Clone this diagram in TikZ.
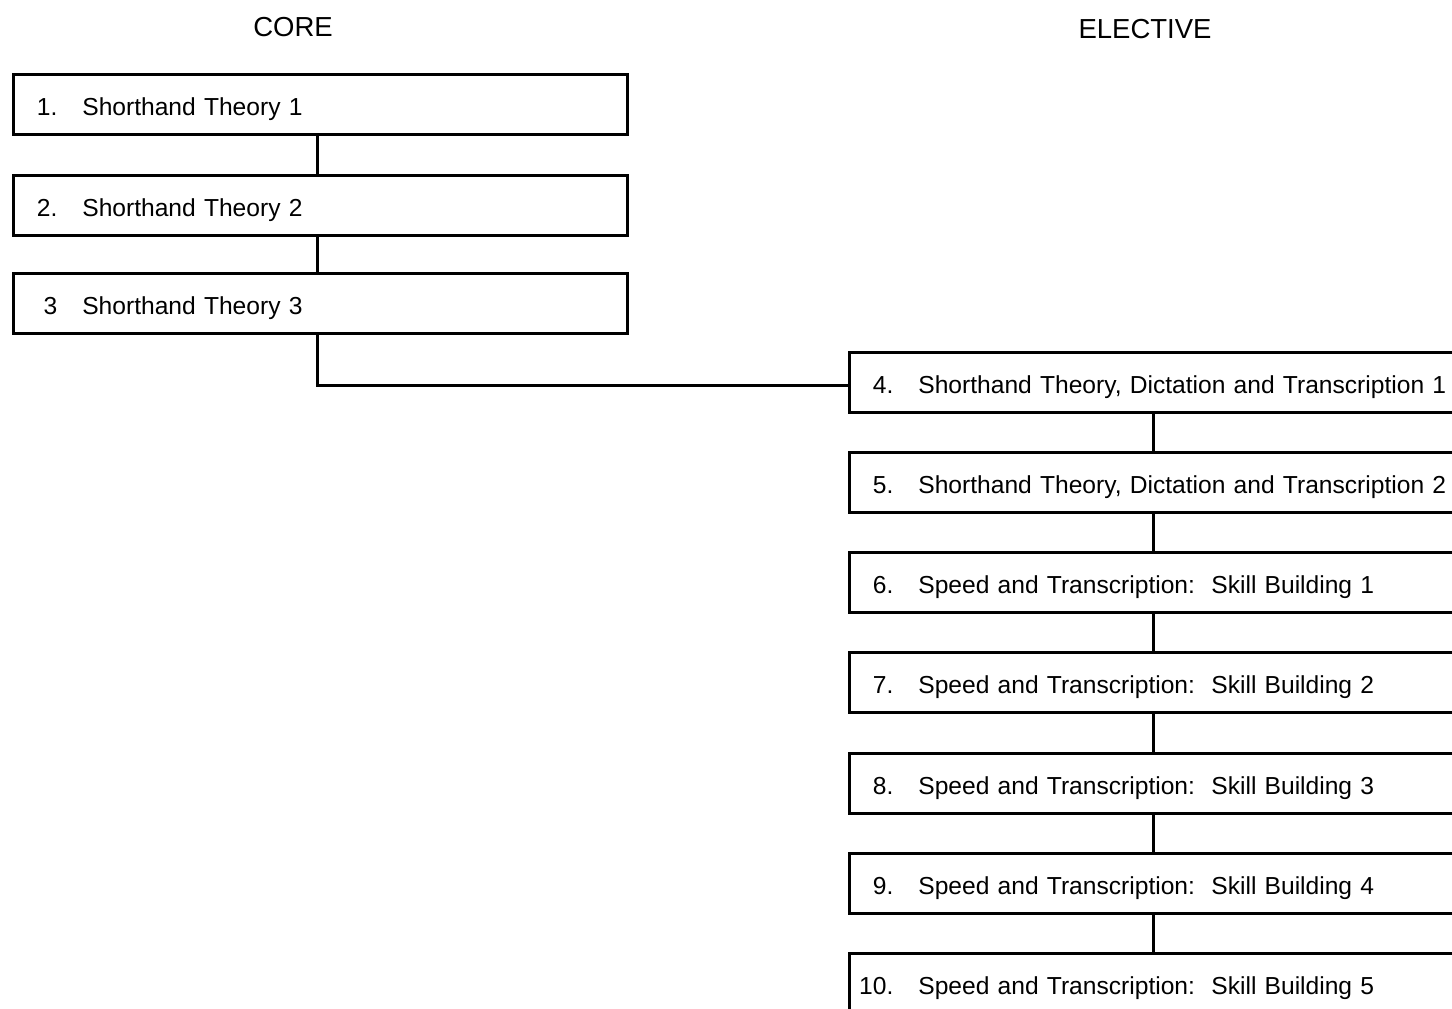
\documentclass[tikz,border=0pt]{standalone}
\usepackage{fontspec}
\setmainfont{Liberation Sans}
\begin{document}
\begin{tikzpicture}[x=1pt,y=-1pt,
  every node/.style={font=\fontsize{24.6}{29}\selectfont},
  course/.style={draw, line width=2.7pt, anchor=north west, minimum height=60pt,
    inner xsep=0pt, inner ysep=0pt, text height=27pt, text depth=4pt, align=left},
  corebox/.style={course, text width=614pt},
  electbox/.style={course, text width=608pt},
  link/.style={line width=2.7pt},
  heading/.style={font=\fontsize{27.5}{32}\selectfont}]
\useasboundingbox (0,0) rectangle (1452,1009);
\clip (0,0) rectangle (1452,1009);
\newcommand{\course}[2]{\makebox[44pt][r]{#1}\hspace{25pt}#2}

% column headings
\node[heading] (hcore) at (293,27) {CORE};
\node[heading] (helect) at (1145,29) {ELECTIVE};

% core sequence
\node[corebox] (c1) at (12,73)  {\course{1.}{Shorthand Theory 1}};
\node[corebox] (c2) at (12,174) {\course{2.}{Shorthand Theory 2}};
\node[corebox] (c3) at (12,272) {\course{3}{Shorthand Theory 3}};

% elective sequence
\node[electbox] (e4)  at (848,351) {\course{4.}{Shorthand Theory, Dictation and Transcription 1}};
\node[electbox] (e5)  at (848,451) {\course{5.}{Shorthand Theory, Dictation and Transcription 2}};
\node[electbox] (e6)  at (848,551) {\course{6.}{Speed and Transcription:\ \ Skill Building 1}};
\node[electbox] (e7)  at (848,651) {\course{7.}{Speed and Transcription:\ \ Skill Building 2}};
\node[electbox] (e8)  at (848,752) {\course{8.}{Speed and Transcription:\ \ Skill Building 3}};
\node[electbox] (e9)  at (848,852) {\course{9.}{Speed and Transcription:\ \ Skill Building 4}};
\node[electbox] (e10) at (848,952) {\course{10.}{Speed and Transcription:\ \ Skill Building 5}};

% connectors (the core spine sits slightly left of the box centres)
\draw[link] ([xshift=-3pt]c1.south) -- ([xshift=-3pt]c2.north);
\draw[link] ([xshift=-3pt]c2.south) -- ([xshift=-3pt]c3.north);
\draw[link] ([xshift=-3pt]c3.south) |- ([yshift=-3pt]e4.west);
\draw[link] (e4.south) -- (e5.north);
\draw[link] (e5.south) -- (e6.north);
\draw[link] (e6.south) -- (e7.north);
\draw[link] (e7.south) -- (e8.north);
\draw[link] (e8.south) -- (e9.north);
\draw[link] (e9.south) -- (e10.north);
\end{tikzpicture}
\end{document}
